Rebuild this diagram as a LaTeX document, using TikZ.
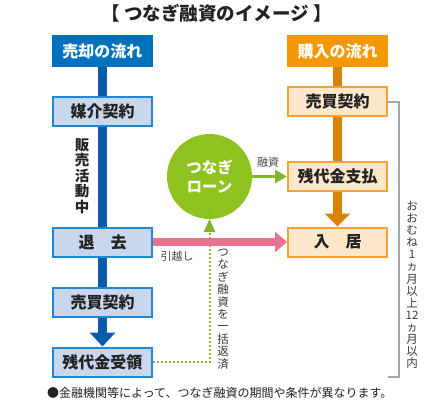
\documentclass[tikz,border=0pt]{standalone}
\usepackage{fontspec}
\setmainfont{Noto Sans CJK JP}
\usetikzlibrary{arrows.meta,backgrounds}
\definecolor{hblue}{HTML}{0071BC}
\definecolor{barblue}{HTML}{0B5CA8}
\definecolor{lfill}{HTML}{C8D7EE}
\definecolor{ledge}{HTML}{1E88D0}
\definecolor{horange}{HTML}{F39800}
\definecolor{barorange}{HTML}{D98400}
\definecolor{rfill}{HTML}{FEE8C9}
\definecolor{redge}{HTML}{F5A232}
\definecolor{loangreen}{HTML}{8DC21F}
\definecolor{arrgreen}{HTML}{80B82A}
\definecolor{pinkbar}{HTML}{E9738F}
\definecolor{bracketgray}{HTML}{A6A6A6}
\definecolor{txt}{HTML}{222222}
\begin{document}
\begin{tikzpicture}[x=1pt,y=-1pt,
  every node/.style={inner sep=0pt, text=txt},
  hdr/.style={minimum width=101pt, minimum height=32pt, font=\fontsize{16}{18}\selectfont\bfseries, text=white},
  lbox/.style={draw=ledge, fill=lfill, line width=2pt, minimum width=99pt, minimum height=29pt, font=\fontsize{16}{18}\selectfont\bfseries},
  rbox/.style={draw=redge, fill=rfill, line width=2pt, minimum width=99pt, minimum height=29pt, font=\fontsize{16}{18}\selectfont\bfseries},
  small/.style={font=\fontsize{11}{12}\selectfont, text=txt!85},
  vtext/.style={align=center, font=\fontsize{11.5}{12.4}\selectfont, text=txt!90},
  bluebar/.style={draw=barblue, line width=8.5pt},
  orangebar/.style={draw=barorange, line width=8.5pt}
]
\useasboundingbox (0,0) rectangle (440,400);

% title
\node[font=\fontsize{18.5}{20}\selectfont\bfseries] (title) at (216.5,13) {【 つなぎ融資のイメージ 】};

% left column
\node[hdr, fill=hblue] (h1) at (102.5,51) {売却の流れ};
\node[lbox] (b1) at (102.5,111.5) {媒介契約};
\node[lbox] (b2) at (102.5,242) {退\hspace{1em}去};
\node[lbox] (b3) at (102.5,302.5) {売買契約};
\node[lbox] (b4) at (102.5,362) {残代金受領};
\node[align=center, font=\fontsize{14.5}{15.5}\selectfont\bfseries] (sell) at (82,176) {販\\売\\活\\動\\中};

% right column
\node[hdr, fill=horange] (h2) at (337.5,51) {購入の流れ};
\node[rbox] (r1) at (337.5,101.5) {売買契約};
\node[rbox] (r2) at (337.5,176.5) {残代金支払};
\node[rbox] (r3) at (337.5,242) {入\hspace{1em}居};

% loan circle
\node[circle, fill=loangreen, minimum size=85pt, align=center, text=white,
      font=\fontsize{15.5}{19}\selectfont\bfseries] (loan) at (209.5,176.5) {つなぎ\\ローン};

\begin{pgfonlayer}{background}
  \draw[bluebar] (h1.south) -- (b3.south);
  \draw[orangebar] (h2.south) -- (r2.north);
\end{pgfonlayer}

% fat arrows
\draw[bluebar, -{Triangle[width=25pt,length=14pt]}] (b3.south) -- (b4.north);
\draw[orangebar, -{Triangle[width=25pt,length=13pt]}] (r2.south) -- (r3.north);

% dotted repayment line
\coordinate (turn) at (loan.south |- b4.east);
\draw[arrgreen, line width=2pt, dotted] (b4.east) -- (turn) -- ([yshift=12pt]loan.south);
\fill[arrgreen] (loan.south) -- ++(-6,13) -- ++(12,0) -- cycle;

% pink move arrow
\draw[pinkbar, line width=8pt, -{Triangle[width=20pt,length=12pt]}] (b2.east) -- (r3.west);

% loan arrow
\draw[arrgreen, line width=2.5pt, -{Triangle[width=13pt,length=12pt]}] (loan.east) -- (r2.west);

% bracket
\coordinate (bk1) at (399,101.5);
\coordinate (bk2) at (399,377);
\coordinate (bk3) at (388,377);
\draw[bracketgray, line width=2pt] (r1.east) -- (bk1) -- (bk2) -- (bk3);

% labels
\node[small] (lbl1) at (268,162) {融資};
\node[small] (lbl2) at (177,256) {引越し};
\node[vtext] (repay) at (223,309) {つ\\な\\ぎ\\融\\資\\を\\一\\括\\返\\済};
\node[vtext, font=\fontsize{11.5}{12.1}\selectfont] (period) at (412,285) {お\\お\\む\\ね\\1\\ヵ\\月\\以\\上\\12\\ヵ\\月\\以\\内};

% footnote
\node[anchor=west, font=\fontsize{12}{13}\selectfont] (note) at (47,393) {●金融機関等によって、つなぎ融資の期間や条件が異なります。};
\end{tikzpicture}
\end{document}
